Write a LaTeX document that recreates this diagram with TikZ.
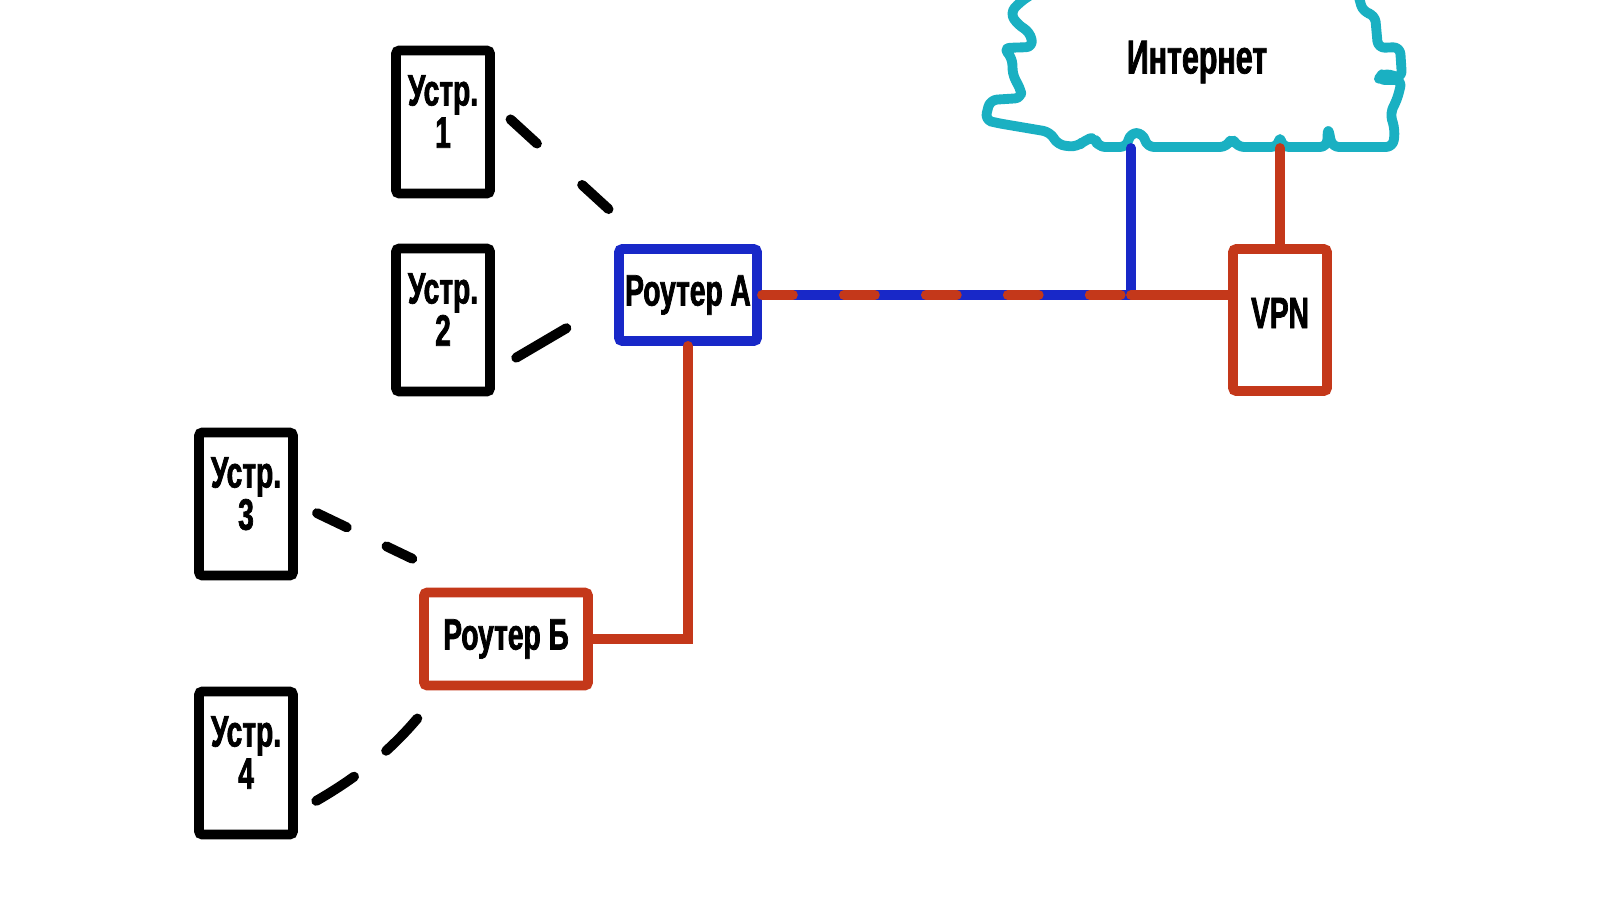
\documentclass[tikz,border=0pt]{standalone}
\usepackage{fontspec}
\newfontfamily\lblfont[FakeStretch=0.64,BoldFeatures={FakeBold=1.6}]{Liberation Sans}
\usepackage{tikz}
\definecolor{wireblue}{RGB}{24,40,200}
\definecolor{wirered}{RGB}{196,56,26}
\definecolor{cloudcyan}{RGB}{26,176,194}

\begin{document}
\begin{tikzpicture}[x=0.01cm,y=-0.01cm,
	box/.style={draw,line width=2.8pt,rounded corners=1pt,inner sep=0pt,align=center,
		font=\lblfont\bfseries\fontsize{12.5}{12}\selectfont},
	dev/.style={box,minimum width=0.94cm,minimum height=1.43cm},
	link/.style={line width=2.8pt,line cap=round}]
	\fill[white] (0,0) rectangle (1600,900);
	\useasboundingbox (0,0) rectangle (1600,900);
	%
	\draw[cloudcyan,line width=2.8pt,line join=round,line cap=round,rounded corners=2pt]
		(1032,-6) -- (1020,2) -- (1010,13) -- (1018,25) -- (1030,32) -- (1033,47)
		-- (1003,48) -- (1012,57) -- (1013,77) -- (1020,87) -- (1022,98)
		-- (990,100) -- (985,120) -- (997,123) -- (1050,132) -- (1058,145)
		-- (1077,147) -- (1085,140) -- (1095,137) -- (1098,147) -- (1127,147)
		-- (1130,133) -- (1143,133) -- (1147,147) -- (1227,147) -- (1232,137)
		-- (1237,147) -- (1278,147) -- (1280,135) -- (1282,147) -- (1327,147)
		-- (1328,127) -- (1332,147) -- (1393,147) -- (1395,130) -- (1390,113)
		-- (1397,100) -- (1402,80) -- (1378,80) -- (1383,73) -- (1402,78)
		-- (1400,47) -- (1378,48) -- (1375,15) -- (1363,12) -- (1358,-6);
	\node[font=\lblfont\bfseries\fontsize{13.5}{13.5}\selectfont] (inet) at (1197,62) {Интернет};
	%
	\node[dev] (d1) at (443,122) {Устр.\\1\\[-6pt]};
	\node[dev] (d2) at (443,320) {Устр.\\2\\[-6pt]};
	\node[dev] (d3) at (246,504) {Устр.\\3\\[-6pt]};
	\node[dev] (d4) at (246,763) {Устр.\\4\\[-6pt]};
	\node[box,draw=wireblue,minimum width=1.38cm,minimum height=0.92cm] (ra) at (688,295) {Роутер А};
	\node[box,draw=wirered,minimum width=1.64cm,minimum height=0.93cm] (rb) at (506,639) {Роутер Б};
	\node[box,draw=wirered,minimum width=0.94cm,minimum height=1.42cm] (vpn) at (1280,320) {VPN\\[-8pt]};
	%
	\coordinate (jn) at (1131,295);
	\coordinate (cb1) at (1131,148);
	\coordinate (cb2) at (1280,148);
	%
	\draw[link,wireblue] (ra.east) -- (jn) -- (cb1);
	\draw[link,wirered,dash pattern=on 8.8pt off 14.5pt] (ra.east) -- (jn);
	\draw[link,wirered] (jn) -- (jn -| vpn.west);
	\draw[link,wirered] (vpn.north) -- (cb2);
	\draw[link,wirered] (ra.south) |- (rb.east);
	%
	\draw[link,dash pattern=on 10.2pt off 17.4pt,shorten <=6pt,shorten >=12pt] (d1.18) -- (ra.129);
	\draw[link,shorten <=7pt,shorten >=15.7pt] (d2.-44) -- (ra.184);
	\draw[link,dash pattern=on 9.4pt off 12.5pt,shorten <=6pt,shorten >=19pt] (d3.east) -- (rb.123);
	\draw[link,dash pattern=on 12.8pt off 11.7pt,shorten <=6pt,shorten >=8pt] (d4.-43) to[out=30,in=231] (rb.218);
\end{tikzpicture}
\end{document}
